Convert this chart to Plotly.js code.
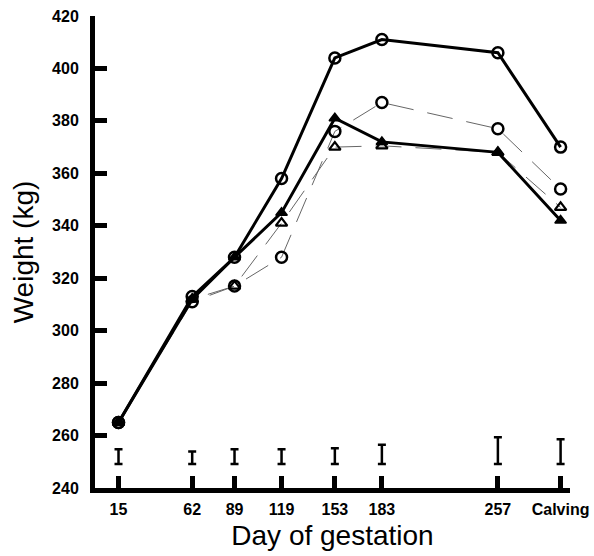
<!DOCTYPE html>
<html>
<head>
<meta charset="utf-8">
<script src="https://cdn.plot.ly/plotly-3.0.1.min.js"></script>
<style>html,body{margin:0;padding:0;background:#fff;}#chart{width:594px;height:556px;}</style>
</head>
<body>
<div id="chart"></div>
<script>
// Day of gestation (Calving placed at its axis position)
var days = [15, 62, 89, 119, 153, 183, 257, 297];
var tickLabels = ['15', '62', '89', '119', '153', '183', '257', 'Calving'];
var yTicks = [240, 260, 280, 300, 320, 340, 360, 380, 400, 420];

// Weight (kg) series
var circleSolid  = [265, 313, 328, 358, 404, 411, 406, 370];
var triSolid     = [265, 312, 328, 345, 381, 372, 368, 342];
var circleDashed = [265, 311, 317, 328, 376, 387, 377, 354];
var triDashed    = [265, 312, 317, 341, 370, 370.5, 368, 347];

// Standard error bars drawn near the bottom of the panel
var seBottom = [249.2, 249.2, 249.2, 249.2, 249.2, 249.2, 249.2, 249.2];
var seLength = [5.6, 4.7, 5.6, 5.6, 6.0, 7.3, 10.2, 9.4];
var seZero   = [0, 0, 0, 0, 0, 0, 0, 0];

var dashStyle = '26px,14px';

var traces = [
  {x: days, y: circleDashed, mode: 'lines+markers', type: 'scatter',
   line: {color: '#666', width: 1, dash: dashStyle},
   marker: {symbol: 'circle-open', size: 11, color: '#000', line: {width: 2.5, color: '#000'}}},
  {x: days, y: triDashed, mode: 'lines+markers', type: 'scatter',
   line: {color: '#666', width: 1, dash: dashStyle},
   marker: {symbol: 'triangle-up-open', size: 10, color: '#000', line: {width: 2.2, color: '#000'}}},
  {x: days, y: triSolid, mode: 'lines+markers', type: 'scatter',
   line: {color: '#000', width: 3},
   marker: {symbol: 'triangle-up', size: 10, color: '#000', line: {width: 1.5, color: '#000'}}},
  {x: days, y: circleSolid, mode: 'lines+markers', type: 'scatter',
   line: {color: '#000', width: 3},
   marker: {symbol: 'circle-open', size: 11, color: '#000', line: {width: 2.5, color: '#000'}}},
  {x: days, y: seBottom, mode: 'markers', type: 'scatter',
   marker: {size: 1, opacity: 0},
   error_y: {type: 'data', symmetric: false, array: seLength, arrayminus: seZero,
             color: '#000', thickness: 2.5, width: 4}}
];

var tickFont = {family: 'Liberation Sans, Arial, sans-serif', size: 16, color: '#000', weight: 'bold'};
var titleFont = {family: 'Liberation Sans, Arial, sans-serif', size: 28, color: '#000'};

var layout = {
  width: 594, height: 556,
  margin: {l: 95, r: 24, t: 16, b: 68},
  paper_bgcolor: '#fff', plot_bgcolor: '#fff',
  showlegend: false,
  xaxis: {
    range: [0, 303], tickmode: 'array', tickvals: days, ticktext: tickLabels,
    showgrid: false, zeroline: false, showline: true, linecolor: '#000', linewidth: 5,
    ticks: 'inside', ticklen: 12, tickwidth: 5, tickcolor: '#000',
    tickfont: tickFont, ticklabelstandoff: 3,
    title: {text: 'Day of gestation', font: titleFont, standoff: 10}
  },
  yaxis: {
    range: [240, 420], tickmode: 'array', tickvals: yTicks,
    showgrid: false, zeroline: false, showline: true, linecolor: '#000', linewidth: 5,
    ticks: 'inside', ticklen: 12, tickwidth: 5, tickcolor: '#000',
    tickfont: tickFont, ticklabelstandoff: 8,
    title: {text: 'Weight (kg)', font: titleFont, standoff: 12}
  }
};

Plotly.newPlot('chart', traces, layout, {displayModeBar: false, staticPlot: true});
</script>
</body>
</html>
